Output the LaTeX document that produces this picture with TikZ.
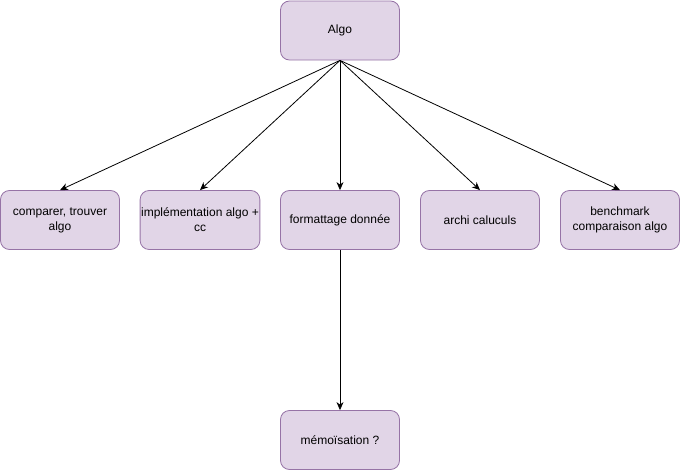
\documentclass[tikz,border=0pt]{standalone}
\usepackage{fontspec}
\setmainfont{Liberation Sans}
\usetikzlibrary{arrows.meta}
\definecolor{boxfill}{HTML}{E1D5E7}
\definecolor{boxline}{HTML}{9673A6}
\begin{document}
\begin{tikzpicture}[x=1pt,y=-1pt,
  box/.style={draw=boxline,fill=boxfill,rounded corners=9pt,line width=0.8pt,
    minimum width=119pt,minimum height=59pt,inner sep=1pt,
    align=center,font=\fontsize{12}{15}\selectfont},
  conn/.style={-{Stealth[length=8pt,width=7pt,inset=2.5pt]},line width=0.8pt,black}]
\useasboundingbox (0,0) rectangle (681,471);
\node[box] (algo) at (340,30.5) {Algo};
\node[box] (a) at (60,220) {comparer, trouver\\algo};
\node[box] (b) at (200,220) {implémentation algo +\\cc};
\node[box] (c) at (340,220) {formattage donnée};
\node[box] (d) at (480,220) {archi caluculs};
\node[box] (e) at (620,220) {benchmark\\comparaison algo};
\node[box] (f) at (340,440) {mémoïsation ?};
\foreach \t in {a,b,c,d,e}{\draw[conn] (algo.south) -- (\t.north);}
\draw[conn] (c.south) -- (f.north);
\end{tikzpicture}
\end{document}
